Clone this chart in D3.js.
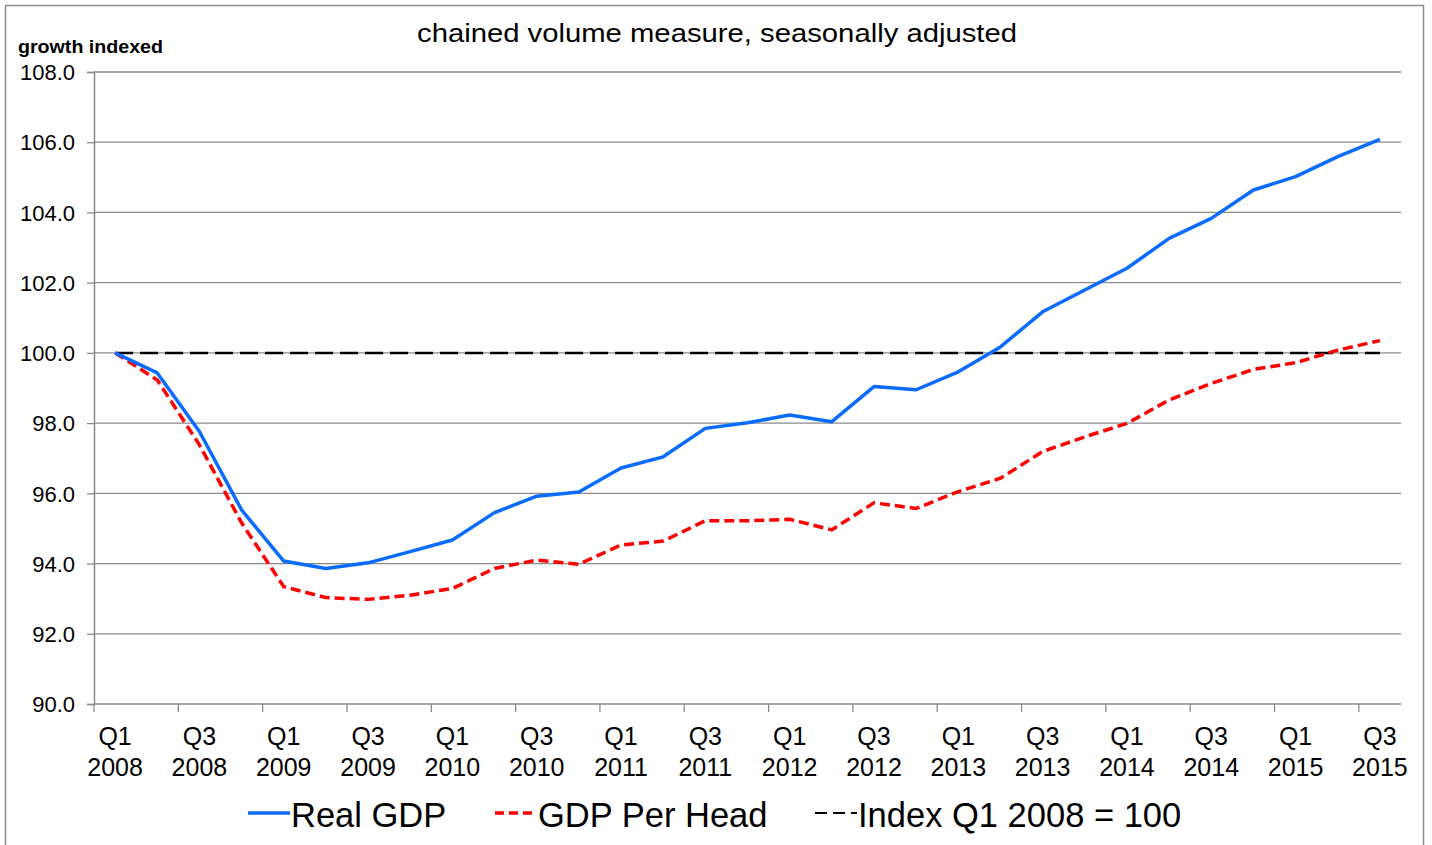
<!DOCTYPE html>
<html>
<head>
<meta charset="utf-8">
<script src="https://cdn.jsdelivr.net/npm/d3@7"></script>
<style>
  html, body { margin: 0; padding: 0; background: #fff; }
  svg { display: block; }
  text { font-family: "Liberation Sans", Arial, sans-serif; fill: #000; }
</style>
</head>
<body>
<svg id="chart" width="1432" height="845"></svg>
<script>
const categories = [
  "Q1 2008","Q2 2008","Q3 2008","Q4 2008",
  "Q1 2009","Q2 2009","Q3 2009","Q4 2009",
  "Q1 2010","Q2 2010","Q3 2010","Q4 2010",
  "Q1 2011","Q2 2011","Q3 2011","Q4 2011",
  "Q1 2012","Q2 2012","Q3 2012","Q4 2012",
  "Q1 2013","Q2 2013","Q3 2013","Q4 2013",
  "Q1 2014","Q2 2014","Q3 2014","Q4 2014",
  "Q1 2015","Q2 2015","Q3 2015"
];
const realGDP = [
  100.0, 99.43, 97.76, 95.53, 94.07, 93.86, 94.02, 94.34,
  94.67, 95.45, 95.92, 96.04, 96.72, 97.04, 97.85, 98.01,
  98.23, 98.04, 99.04, 98.95, 99.46, 100.17, 101.17, 101.79,
  102.41, 103.26, 103.83, 104.64, 105.02, 105.59, 106.08
];
const gdpPerHead = [
  100.0, 99.23, 97.38, 95.16, 93.34, 93.03, 92.98, 93.10,
  93.29, 93.86, 94.10, 93.98, 94.53, 94.64, 95.22, 95.22,
  95.26, 94.96, 95.73, 95.57, 96.05, 96.43, 97.19, 97.61,
  97.99, 98.66, 99.13, 99.53, 99.72, 100.08, 100.35
];
const indexLine = categories.map(() => 100);
const yTicks = [90, 92, 94, 96, 98, 100, 102, 104, 106, 108];
const titleText = "chained volume measure, seasonally adjusted";
const yAxisTitle = "growth indexed";
const seriesNames = ["Real GDP", "GDP Per Head", "Index Q1 2008 = 100"];

const svg = d3.select("#chart");
const plotLeft = 94, plotRight = 1401, plotTop = 72, plotBottom = 704;

// outer border
svg.append("rect").attr("x", 5.5).attr("y", 5.5).attr("width", 1418).attr("height", 860)
  .attr("fill", "none").attr("stroke", "#8c8c8c").attr("stroke-width", 1.5);

const x = d3.scaleBand().domain(categories).range([plotLeft, plotRight]).padding(0);
const y = d3.scaleLinear().domain([90, 108]).range([plotBottom, plotTop]);
const cx = d => x(d) + x.bandwidth() / 2;

// gridlines
svg.append("g").selectAll("line").data(yTicks.filter(t => t !== 90)).join("line")
  .attr("x1", plotLeft).attr("x2", plotRight)
  .attr("y1", d => y(d)).attr("y2", d => y(d))
  .attr("stroke", "#8a8a8a").attr("stroke-width", 1.3);

// y axis
const yAxis = d3.axisLeft(y).tickValues(yTicks).tickSize(7).tickPadding(12)
  .tickFormat(d3.format(".1f"));
const gy = svg.append("g").attr("transform", `translate(${plotLeft},0)`).call(yAxis);
gy.select(".domain").attr("stroke", "#8a8a8a").attr("stroke-width", 1.5);
gy.selectAll(".tick line").attr("stroke", "#8a8a8a").attr("stroke-width", 1.3);
gy.selectAll(".tick text").attr("font-size", 22).attr("font-family", "Liberation Sans, Arial, sans-serif")
  .attr("fill", "#000").attr("x", -19).attr("dy", "0.35em");

// x axis line
svg.append("line").attr("x1", plotLeft).attr("x2", plotRight).attr("y1", plotBottom).attr("y2", plotBottom)
  .attr("stroke", "#8a8a8a").attr("stroke-width", 1.5);
// x ticks every two categories at left band edges
const tickCats = categories.filter((c, i) => i % 2 === 0);
svg.append("g").selectAll("line").data(tickCats).join("line")
  .attr("x1", d => x(d)).attr("x2", d => x(d))
  .attr("y1", plotBottom).attr("y2", plotBottom + 8)
  .attr("stroke", "#8a8a8a").attr("stroke-width", 1.3);
// x labels
const xl = svg.append("g").selectAll("text").data(tickCats).join("text")
  .attr("text-anchor", "middle").attr("font-size", 25)
  .attr("transform", d => `translate(${cx(d)},0)`);
xl.append("tspan").attr("x", 0).attr("y", 745).text(d => d.split(" ")[0]);
xl.append("tspan").attr("x", 0).attr("y", 776).text(d => d.split(" ")[1]);

// lines
const line = d3.line().x((d, i) => cx(categories[i])).y(d => y(d));
svg.append("path").datum(indexLine).attr("d", line)
  .attr("fill", "none").attr("stroke", "#000").attr("stroke-width", 2.5)
  .attr("stroke-dasharray", "18,7");
svg.append("path").datum(gdpPerHead).attr("d", line)
  .attr("fill", "none").attr("stroke", "#ff0000").attr("stroke-width", 3.5)
  .attr("stroke-dasharray", "10,5");
svg.append("path").datum(realGDP).attr("d", line)
  .attr("fill", "none").attr("stroke", "#0a6cff").attr("stroke-width", 3.5)
  .attr("stroke-linejoin", "round");

// title
svg.append("text").attr("x", 417).attr("y", 42)
  .attr("font-size", 26).attr("textLength", 600).attr("lengthAdjust", "spacingAndGlyphs")
  .text(titleText);
svg.append("text").attr("x", 18).attr("y", 53).attr("font-size", 19)
  .attr("font-family", "Lato, sans-serif").attr("font-weight", 600)
  .attr("textLength", 145).attr("lengthAdjust", "spacingAndGlyphs").text(yAxisTitle);

// legend
const legendItems = [
  { name: seriesNames[0], color: "#0a6cff", dash: null, w: 3.5, x0: 248, x1: 290 },
  { name: seriesNames[1], color: "#ff0000", dash: "9,5", w: 3.5, x0: 495, x1: 537 },
  { name: seriesNames[2], color: "#000", dash: "12,6", w: 2.2, x0: 815, x1: 857 }
];
const lg = svg.append("g").selectAll("g").data(legendItems).join("g");
lg.append("line").attr("x1", d => d.x0).attr("x2", d => d.x1).attr("y1", 813).attr("y2", 813)
  .attr("stroke", d => d.color).attr("stroke-width", d => d.w)
  .attr("stroke-dasharray", d => d.dash);
lg.append("text").attr("x", d => d.x1 + 1).attr("y", 827).attr("font-size", 34.5).text(d => d.name);
</script>
</body>
</html>
